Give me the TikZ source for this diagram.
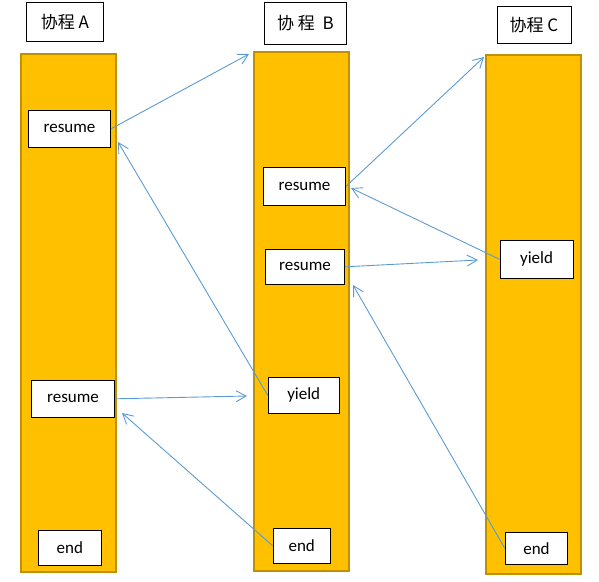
\documentclass[tikz,border=0pt]{standalone}
\usepackage{fontspec}
\setmainfont{Carlito}
\newfontfamily\cjk{Noto Sans CJK SC}
\usetikzlibrary{arrows.meta}
\definecolor{colfill}{HTML}{FFC000}
\definecolor{coldraw}{HTML}{BF9000}
\definecolor{arrowblue}{HTML}{5B9BD5}

\begin{document}
\begin{tikzpicture}[
    % GLOBAL CFG
    x=1pt, y=-1pt,
    font=\fontsize{17}{20}\selectfont,
    >={Straight Barb[length=10pt,width=11pt]},
    % Styles
    column/.style={% For the coroutine bars
        rectangle,
        draw=coldraw,
        line width=2pt,
        fill=colfill,
        inner sep=0pt,
    },
    title/.style={% For the coroutine names
        rectangle,
        draw=black,
        line width=1pt,
        fill=white,
        inner sep=0pt,
        font=\cjk\fontsize{17}{20}\selectfont,
    },
    event/.style={% For resume, yield and end
        rectangle,
        draw=black,
        line width=1pt,
        fill=white,
        inner sep=0pt,
    },
    ArrowB/.style={% Blue connectors
        draw=arrowblue,
        line width=.9pt,
    },
    ]
    \useasboundingbox (0,0) rectangle (599,581);

    % Draw columns
    \node [column, minimum width=95pt, minimum height=518pt] (colA) at (68.5,313) {};
    \node [column, minimum width=95.5pt, minimum height=519pt] (colB) at (301.25,311.5) {};
    \node [column, minimum width=95.5pt, minimum height=519.5pt] (colC) at (533.25,314.25) {};

    % Draw titles
    \node [title, minimum width=77pt, minimum height=39pt] (titleA) at (65,21.8) {协程 A};
    \node [title, minimum width=82.4pt, minimum height=42pt] (titleB) at (305.5,23.3) {协 程\ \ B};
    \node [title, minimum width=74pt, minimum height=37pt] (titleC) at (534,24.8) {协程 C};

    % Draw events of A
    \node [event, minimum width=82.4pt, minimum height=36.7pt] (resA1) at (69.5,128.7) {resume};
    \node [event, minimum width=83.4pt, minimum height=37pt] (resA2) at (73,398.8) {resume};
    \node [event, minimum width=63pt, minimum height=35pt] (endA) at (69.8,547.8) {end};

    % Draw events of B
    \node [event, minimum width=82.4pt, minimum height=37.7pt] (resB1) at (304.5,186.2) {resume};
    \node [event, minimum width=79.4pt, minimum height=35pt] (resB2) at (305,266.8) {resume};
    \node [event, minimum width=71pt, minimum height=36pt] (yieldB) at (303.7,395.3) {yield};
    \node [event, minimum width=57pt, minimum height=35pt] (endB) at (301.7,545.8) {end};

    % Draw events of C
    \node [event, minimum width=73pt, minimum height=38pt] (yieldC) at (536.5,259.3) {yield};
    \node [event, minimum width=62.4pt, minimum height=32pt] (endC) at (536.5,548.3) {end};

    % Free ends of arrows
    \coordinate (topB) at (249,54);
    \coordinate (topC) at (484,57);
    \coordinate (backA1) at (118,142);
    \coordinate (backA2) at (122,413);
    \coordinate (inB) at (247,396);
    \coordinate (backB1) at (351,188);
    \coordinate (backB2) at (353,285);
    \coordinate (inC) at (478,260);

    % Connect all
    \draw [->, ArrowB] (resA1.east) -- (topB);
    \draw [->, ArrowB] (yieldB.west) -- (backA1);
    \draw [->, ArrowB] (resA2.east) -- (inB);
    \draw [->, ArrowB] (endB.west) -- (backA2);
    \draw [->, ArrowB] (resB1.east) -- (topC);
    \draw [->, ArrowB] (yieldC.west) -- (backB1);
    \draw [->, ArrowB] (resB2.east) -- (inC);
    \draw [->, ArrowB] (endC.west) -- (backB2);

\end{tikzpicture}
\end{document}
